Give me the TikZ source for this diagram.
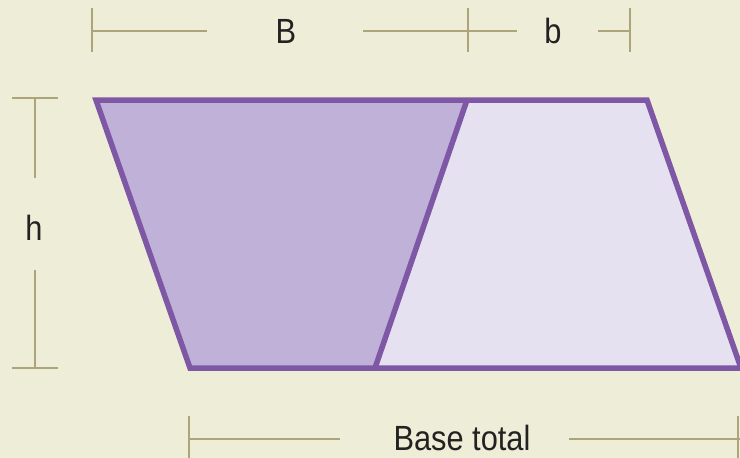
\documentclass[tikz,border=0pt]{standalone}
\usepackage{fontspec}
\setmainfont[FakeStretch=0.88]{Liberation Sans}
\definecolor{bg}{HTML}{EEEDD7}
\definecolor{purp}{HTML}{7E57A5}
\definecolor{fillL}{HTML}{C0B1D8}
\definecolor{fillR}{HTML}{E6E1F1}
\definecolor{dimc}{HTML}{ADA47B}
\definecolor{txt}{HTML}{222222}
\begin{document}
\begin{tikzpicture}[x=1pt,y=-1pt,
  dim/.style={draw=dimc,line width=2.8pt},
  outline/.style={draw=purp,line width=5.5pt,line join=miter},
  lbl/.style={font=\fontsize{35}{35}\selectfont,text=txt,inner sep=0pt,anchor=base}]
\useasboundingbox[fill=bg] (0,0) rectangle (740,458);
\clip (0,0) rectangle (740,458);
% shape vertices
\coordinate (TL) at (96,100);
\coordinate (M1) at (467,100);
\coordinate (TR) at (647,100);
\coordinate (BR) at (741,368);
\coordinate (M2) at (375,368);
\coordinate (BL) at (190,368);
\fill[fillL] (TL)--(M1)--(M2)--(BL)--cycle;
\fill[fillR] (M1)--(TR)--(BR)--(M2)--cycle;
\draw[outline] (TL)--(TR)--(BR)--(BL)--cycle;
\draw[outline] (M1)--(M2);
% labels
\node[lbl] (lB) at (286,43) {B};
\node[lbl] (lb) at (553,43) {b};
\node[lbl] (lh) at (34,240) {h};
\node[lbl] (lbase) at (462,450) {Base total};
% top dimension
\coordinate (t0a) at (92,8);  \coordinate (t0b) at (92,52);  \coordinate (t0) at (92,31);
\coordinate (t1) at (207,31); \coordinate (t2) at (363,31);
\coordinate (t3a) at (468,8); \coordinate (t3b) at (468,52);
\coordinate (t4) at (517,31); \coordinate (t5) at (598,31);
\coordinate (t6a) at (630,8); \coordinate (t6b) at (630,52); \coordinate (t6) at (630,31);
\draw[dim] (t0a)--(t0b);
\draw[dim] (t0)--(t1);
\draw[dim] (t2)--(t4);
\draw[dim] (t3a)--(t3b);
\draw[dim] (t5)--(t6);
\draw[dim] (t6a)--(t6b);
% left dimension
\coordinate (l0a) at (12,98);  \coordinate (l0b) at (58,98);  \coordinate (l0) at (35,98);
\coordinate (l1) at (35,178);  \coordinate (l2) at (35,270);
\coordinate (l3a) at (12,368); \coordinate (l3b) at (58,368); \coordinate (l3) at (35,368);
\draw[dim] (l0a)--(l0b);
\draw[dim] (l0)--(l1);
\draw[dim] (l2)--(l3);
\draw[dim] (l3a)--(l3b);
% bottom dimension
\coordinate (b0a) at (189,416); \coordinate (b0b) at (189,460); \coordinate (b0) at (189,439);
\coordinate (b1) at (340,439);  \coordinate (b2) at (569,439);  \coordinate (b3) at (740,439);
\coordinate (b4a) at (738,416); \coordinate (b4b) at (738,460);
\draw[dim] (b0a)--(b0b);
\draw[dim] (b0)--(b1);
\draw[dim] (b2)--(b3);
\draw[dim] (b4a)--(b4b);
\end{tikzpicture}
\end{document}
